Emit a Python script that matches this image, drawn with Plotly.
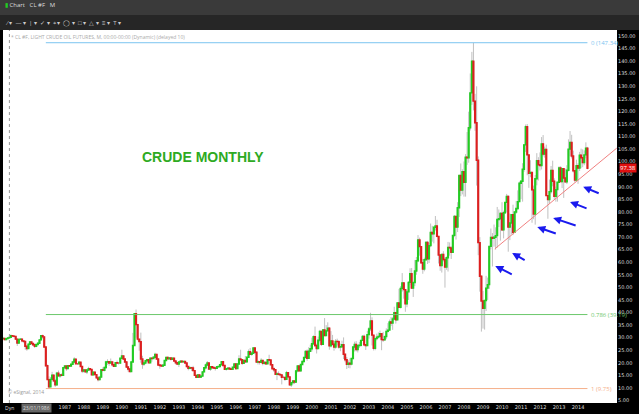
import plotly.graph_objects as go
import pandas as pd

first_open = 29.6
close = [
29.7,29.2,29.6,
29.9,30.1,30.8,30.6,30.5,29.4,27.9,29.3,29.4,28.7,28.5,26.6,
25.7,27.4,28.3,27.7,27.2,26.6,27.3,27.8,29.1,30.8,30.3,26.3,
18.8,13.3,10.4,13.4,15.1,12.8,11.2,15.9,14.8,15.2,15.0,18.0,
18.7,17.7,18.8,18.7,19.4,20.3,21.4,19.6,19.6,20.2,18.5,16.7,
17.1,16.4,17.1,17.6,17.3,15.2,16.3,15.3,14.0,13.3,14.3,17.2,
17.0,18.1,20.3,20.4,19.9,20.3,19.2,18.6,20.0,19.9,19.9,21.8,
22.7,21.5,20.3,18.3,17.5,16.5,20.3,26.9,39.5,35.2,29.4,28.4,
21.5,19.5,19.9,20.8,21.2,20.0,21.8,21.7,22.2,23.3,21.5,19.1,
18.9,18.7,19.0,20.9,22.1,21.6,21.9,21.4,21.8,20.7,20.0,19.5,
20.3,20.6,20.4,20.5,19.9,18.5,17.8,18.0,17.9,16.9,15.0,14.2,
15.2,14.3,14.7,16.4,18.0,19.1,19.9,17.5,18.4,18.1,17.9,17.8,
18.4,18.5,19.2,20.4,18.9,17.4,17.6,17.8,17.5,17.4,18.2,19.5,
17.7,19.5,21.5,21.2,19.8,20.9,20.4,22.2,24.4,23.4,23.8,25.9,
24.2,20.3,20.4,20.2,20.9,19.8,20.1,19.6,21.2,21.1,19.2,17.6,
17.2,15.4,15.6,15.4,15.2,14.2,14.2,13.4,16.1,14.4,11.2,12.1,
12.8,12.3,16.8,18.7,16.8,19.3,20.5,22.1,24.5,21.8,24.6,25.6,
27.6,30.4,26.9,25.7,29.0,32.5,27.4,33.1,30.8,32.7,33.8,26.8,
28.7,27.4,26.3,28.5,28.4,26.3,26.4,27.2,23.4,21.2,19.4,19.8,
19.5,21.7,26.3,27.3,25.3,26.9,27.0,28.9,30.5,27.2,26.9,31.2,
33.5,36.6,31.0,25.8,29.6,30.2,30.5,31.6,29.2,29.1,30.4,32.5,
33.0,36.2,35.8,37.4,39.9,37.1,43.8,42.1,49.6,51.8,49.1,43.5,
48.2,52.0,55.4,49.7,51.97,56.5,60.6,68.9,66.2,59.8,57.3,61.0,
67.9,61.4,66.6,71.9,71.3,73.9,74.4,70.3,62.9,58.7,63.1,61.1,
58.1,61.8,65.9,65.7,64.0,70.7,78.2,74.0,81.7,94.5,88.7,96.0,
91.8,101.8,101.6,113.5,127.4,140.0,124.1,115.5,100.6,67.8,54.4,44.6,
41.7,44.8,49.7,51.1,66.3,69.9,69.5,69.96,70.6,77.0,77.3,79.4,
72.9,79.7,83.8,86.2,73.97,75.6,78.95,71.9,79.97,81.4,84.1,91.4,
92.2,96.97,106.7,113.9,102.7,95.4,95.7,88.8,79.2,93.2,100.4,98.8,
98.5,107.1,103.0,104.9,86.5,84.96,88.1,96.5,92.2,86.2,88.9,91.8,
97.5,92.1,97.2,93.5,91.97,96.6,105.0,107.7,102.3,96.4,92.7,98.4,
97.5,102.6,101.6,99.7,102.7,105.4,97.38]
high = [
30.3,29.9,29.9,
30.1,30.5,31.3,31.0,30.9,30.6,29.5,29.6,29.8,29.6,28.9,28.7,
26.8,27.6,28.6,28.6,27.9,27.6,27.4,28.0,29.3,31.0,31.2,30.5,
26.4,19.3,14.6,14.3,16.4,15.3,13.5,16.4,16.9,15.6,15.8,18.0,
18.9,18.9,18.9,19.0,19.5,20.4,22.2,21.4,19.9,20.6,20.2,18.6,
17.4,17.3,17.2,18.4,17.9,17.4,16.5,16.3,15.3,14.7,14.4,17.3,
18.2,18.4,20.8,21.4,20.3,21.7,20.4,19.4,20.1,20.9,20.1,21.9,
25.2,23.0,21.7,20.6,18.7,17.9,20.6,31.9,39.7,41.2,35.5,29.3,
32.0,22.8,20.8,21.2,21.6,21.5,22.0,22.1,22.5,24.0,23.6,21.5,
19.2,19.4,19.5,21.1,22.4,22.5,22.2,21.9,22.1,21.9,20.7,19.9,
20.4,21.0,20.8,20.8,20.6,19.9,18.1,18.6,18.4,18.8,17.1,15.2,
15.4,15.3,15.0,16.5,18.2,19.7,20.7,19.9,18.4,18.5,18.6,17.8,
18.7,18.7,19.4,20.7,20.5,19.2,17.7,18.3,18.3,17.8,18.3,19.7,
19.8,19.8,23.0,25.2,21.4,21.2,22.7,22.3,25.3,25.9,24.4,26.0,
26.0,24.5,21.0,20.5,21.8,20.9,20.7,20.6,21.4,23.2,21.3,19.2,
18.2,17.0,16.3,16.6,15.7,15.4,14.9,14.4,16.8,16.3,14.4,12.2,
12.9,12.9,16.9,18.9,18.7,19.5,20.9,22.3,25.0,25.3,26.2,27.2,
30.0,30.9,34.4,27.6,30.4,33.1,32.7,33.3,37.8,35.0,36.1,34.2,
32.6,31.1,28.6,29.4,29.6,29.0,27.6,28.8,30.1,23.4,22.3,21.0,
21.8,21.8,26.3,28.4,28.6,27.0,28.3,29.0,31.0,31.2,27.5,32.7,
34.2,39.9,38.1,30.4,29.8,31.6,32.1,32.8,31.6,32.3,30.9,33.7,
35.8,37.2,38.2,38.2,42.3,40.3,44.2,49.4,50.5,55.7,50.5,46.0,
49.0,52.5,57.6,57.7,52.1,60.9,62.1,70.8,69.8,66.4,61.3,61.8,
68.4,68.5,67.6,75.4,74.5,73.9,78.4,76.9,70.1,62.5,63.4,64.4,
62.0,62.3,68.1,67.9,66.4,70.7,78.8,76.6,83.9,94.7,99.3,97.0,
100.1,103.0,111.8,119.9,135.1,143.7,147.3,127.0,130.0,102.1,70.0,54.7,
48.6,45.0,54.6,53.9,66.5,73.4,71.6,75.0,73.9,82.0,81.0,80.0,
83.9,80.5,83.9,87.2,86.6,79.4,79.2,82.9,80.1,84.4,88.6,92.1,
92.6,99.4,107.0,114.8,115.0,102.6,100.6,95.8,90.5,94.7,103.4,101.8,
103.7,109.8,110.6,106.0,106.8,86.4,92.9,98.3,100.4,93.4,90.1,91.9,
98.2,98.2,97.4,97.2,97.2,98.6,108.9,112.2,110.7,104.4,95.8,100.8,
99.4,103.9,105.2,104.9,104.5,107.7,105.9]
low = [
29.4,28.9,29.0,
29.4,29.6,30.0,30.2,30.0,29.2,26.7,27.8,29.1,28.1,27.8,25.2,
24.8,25.5,27.2,27.3,26.7,25.9,26.2,27.2,27.7,29.0,29.6,25.9,
18.5,13.2,10.0,10.4,13.3,12.3,10.4,11.0,14.4,14.0,14.6,14.8,
17.9,16.8,17.6,18.3,18.6,19.4,20.2,19.5,19.2,19.4,18.4,15.9,
16.1,16.2,15.5,16.8,17.0,15.0,15.0,15.1,13.7,12.6,13.0,14.2,
16.6,16.6,17.6,19.2,18.8,19.9,18.5,18.4,18.6,19.6,19.3,19.5,
21.4,21.2,19.9,17.9,16.5,16.4,16.4,20.5,27.5,30.0,28.9,24.8,
20.0,17.6,18.7,19.4,20.7,19.9,20.0,20.4,21.6,22.3,21.4,18.9,
17.6,18.6,18.5,19.0,20.9,21.4,21.5,20.9,21.3,20.6,19.3,19.1,
18.3,19.9,20.1,20.1,19.8,18.2,17.0,17.4,16.7,16.7,14.7,13.9,
14.1,14.1,14.0,14.6,16.3,17.4,18.9,17.4,16.8,17.5,17.5,16.9,
17.5,18.3,18.4,19.4,18.7,17.4,16.9,17.6,17.5,17.2,17.5,18.2,
17.2,17.7,19.4,21.0,19.1,19.5,20.0,20.4,22.2,23.1,22.8,23.6,
23.4,20.0,19.3,19.3,20.2,19.0,19.3,19.2,19.5,20.8,19.1,17.5,
16.3,15.3,13.1,14.9,14.5,11.4,13.8,12.8,13.2,14.2,10.9,10.4,
11.4,11.6,12.2,16.2,16.7,16.5,19.3,20.2,21.9,20.8,21.8,24.3,
24.5,27.2,26.2,23.7,26.1,28.2,26.7,29.5,30.6,31.0,32.8,25.2,
26.1,26.8,24.8,25.6,26.9,25.6,24.6,26.2,21.5,20.2,17.5,17.9,
17.8,19.0,21.5,24.5,24.5,24.1,25.9,26.4,28.7,26.6,25.1,26.7,
29.6,32.6,26.9,24.9,25.0,28.9,29.6,29.7,25.0,28.3,28.9,29.4,
32.0,32.9,34.6,33.1,37.7,35.6,37.2,41.9,41.6,48.3,45.5,40.3,
42.1,45.0,51.0,49.5,46.2,50.5,55.0,60.0,62.6,59.3,55.4,56.4,
60.8,59.3,59.7,66.0,68.2,67.5,72.6,69.9,59.5,56.6,55.9,60.3,
49.9,57.0,56.3,62.6,61.3,64.0,70.0,69.0,72.0,78.0,86.3,87.0,
86.1,86.1,98.7,99.6,112.4,122.6,120.4,112.3,90.5,62.8,48.3,32.4,
33.6,33.2,40.6,45.0,49.4,65.1,58.3,66.2,65.0,65.8,74.0,68.6,
72.4,69.5,79.3,79.8,64.2,68.8,71.1,70.8,72.6,79.3,80.8,84.0,
85.1,84.1,96.0,103.9,94.6,89.6,93.8,75.7,77.1,74.95,90.6,92.5,
96.5,96.9,102.1,101.6,86.5,77.3,83.4,87.3,90.2,84.9,84.1,84.1,
91.7,92.0,89.5,85.6,91.6,91.1,96.1,102.2,101.3,95.7,91.8,92.5,
91.2,96.3,97.4,97.8,98.6,101.4,97.0]
open_ = [first_open] + close[:-1]
dates = pd.date_range("1983-10-01", periods=len(close), freq="MS")
body_hi = [max(o, c) for o, c in zip(open_, close)]
body_lo = [min(o, c) for o, c in zip(open_, close)]

year_ticks = list(range(1987, 2015))
y_ticks = list(range(5, 155, 5))

fib_levels = [147.34, 39.19, 9.75]
fib_labels = ["0 (147.34)", "0.786 (39.19)", "1 (9.75)"]
fib_colors = ["#7cc4f0", "#6cc86c", "#f5b08a"]

fig = go.Figure()
fig.add_trace(go.Candlestick(
    x=dates, open=open_, high=high, low=low, close=close,
    increasing=dict(fillcolor="#c8c8c8", line=dict(color="#c0c0c0", width=1)),
    decreasing=dict(fillcolor="#c8c8c8", line=dict(color="#c0c0c0", width=1)),
    whiskerwidth=0, showlegend=False, hoverinfo="skip"))
fig.add_trace(go.Candlestick(
    x=dates, open=open_, high=body_hi, low=body_lo, close=close,
    increasing=dict(fillcolor="#22cc22", line=dict(color="#22cc22", width=1.4)),
    decreasing=dict(fillcolor="#dd1f1f", line=dict(color="#dd1f1f", width=1.4)),
    whiskerwidth=0, showlegend=False, hoverinfo="skip"))

shapes = []
ann = []
for lv, lb, c in zip(fib_levels, fib_labels, fib_colors):
    shapes.append(dict(type="line", xref="x", yref="y", x0="1986-01-01", x1="2014-07-01",
                       y0=lv, y1=lv, line=dict(color=c, width=1)))
    ann.append(dict(x="2014-08-01", y=lv, xref="x", yref="y", text=lb, showarrow=False,
                    xanchor="left", font=dict(size=6, color=c)))
shapes.append(dict(type="line", xref="x", yref="y", x0="2009-08-15", y0=65.3,
                   x1="2016-01-15", y1=105.4, line=dict(color="#f08080", width=1)))
shapes.append(dict(type="line", xref="x", yref="paper", x0="1984-02-01", x1="1984-02-01",
                   y0=0, y1=1, line=dict(color="#999999", width=1, dash="dot")))
shapes.append(dict(type="rect", xref="paper", yref="paper", x0=-0.01, x1=1.05, y0=1.04, y1=1.09,
                   fillcolor="#3a3a3a", line=dict(width=0), layer="below"))
shapes.append(dict(type="rect", xref="paper", yref="paper", x0=-0.01, x1=1.05, y0=1.0, y1=1.04,
                   fillcolor="#262626", line=dict(width=0), layer="below"))

arrows = [("2009-08-25", 58.5, 18, 9), ("2010-07-15", 63.7, 14, 8),
          ("2011-11-10", 74.0, 20, 7), ("2012-09-10", 77.6, 24, 8),
          ("2013-08-01", 84.0, 18, 7), ("2014-04-10", 90.0, 17, 7)]
for hx, hy, dx, dy in arrows:
    ann.append(dict(x=hx, y=hy, ax=dx, ay=dy, xref="x", yref="y",
                    text="", showarrow=True, arrowhead=2, arrowsize=0.8, arrowwidth=2,
                    arrowcolor="#1a1aee"))

ann += [
    dict(x="1994-04-01", y=102, xref="x", yref="y", text="<b>CRUDE MONTHLY</b>", showarrow=False,
         font=dict(size=14, color="#2eaa22", family="Liberation Sans")),
    dict(x=0.01, y=0.995, xref="paper", yref="paper", xanchor="left", yanchor="top",
         text="* CL #F, LIGHT CRUDE OIL FUTURES, M, 00:00-00:00 (Dynamic) (delayed 10)",
         showarrow=False, font=dict(size=5, color="#aaaaaa")),
    dict(x=0.005, y=0.015, xref="paper", yref="paper", xanchor="left", yanchor="bottom",
         text="© eSignal, 2014", showarrow=False, font=dict(size=5, color="#999999")),
    dict(x=1.003, y=97.38, xref="paper", yref="y", xanchor="left", text="97.38", showarrow=False,
         bgcolor="#e01010", font=dict(size=6, color="white"), borderpad=0),
    dict(x=1.003, y=153.3, xref="paper", yref="y", xanchor="left", text="153.43", showarrow=False,
         bgcolor="#555555", font=dict(size=6, color="#dddddd"), borderpad=0),
    dict(x=0.03, y=-0.001, xref="paper", yref="paper", xanchor="left", yanchor="top",
         text="23/01/1986", showarrow=False, bgcolor="#666666", font=dict(size=5, color="#dddddd")),
    dict(x=0.0, y=-0.001, xref="paper", yref="paper", xanchor="left", yanchor="top",
         text="Dyn", showarrow=False, font=dict(size=5, color="#dddddd")),
    dict(x=0.0, y=1.066, xref="paper", yref="paper", xanchor="left", yanchor="middle",
         text="<span style='color:#22cc22'>▮</span> Chart   CL #F   M", showarrow=False,
         font=dict(size=6, color="#dddddd")),
    dict(x=0.0, y=1.02, xref="paper", yref="paper", xanchor="left", yanchor="middle",
         text="⁄ ▾  — ▾  | ▾  ✓ ▾  ⌖ ▾  ◯ ▾  □ ▾  △ ▾  ≡ ▾  T ▾", showarrow=False,
         font=dict(size=6, color="#cccccc")),
]

fig.update_layout(
    width=639, height=414, margin=dict(l=3, r=22, t=30, b=11),
    paper_bgcolor="#000000", plot_bgcolor="#ffffff",
    shapes=shapes, annotations=ann,
    xaxis=dict(type="date", range=["1983-10-01", "2016-01-20"], rangeslider=dict(visible=False),
               showgrid=False, zeroline=False,
               tickvals=[f"{y}-01-01" for y in year_ticks], ticktext=[str(y) for y in year_ticks],
               tickfont=dict(size=5, color="#dddddd", family="DejaVu Sans"), ticks="", ticklen=0),
    yaxis=dict(side="right", range=[4.0, 152.4], showgrid=False, zeroline=False,
               tickvals=y_ticks, ticktext=[f"{v:.2f}" for v in y_ticks],
               tickfont=dict(size=5, color="#dddddd", family="DejaVu Sans"), ticks=""),
)
fig.write_html("out.html", config={"displayModeBar": False},
               post_script="document.body.style.margin='0';document.body.style.background='#000';")
